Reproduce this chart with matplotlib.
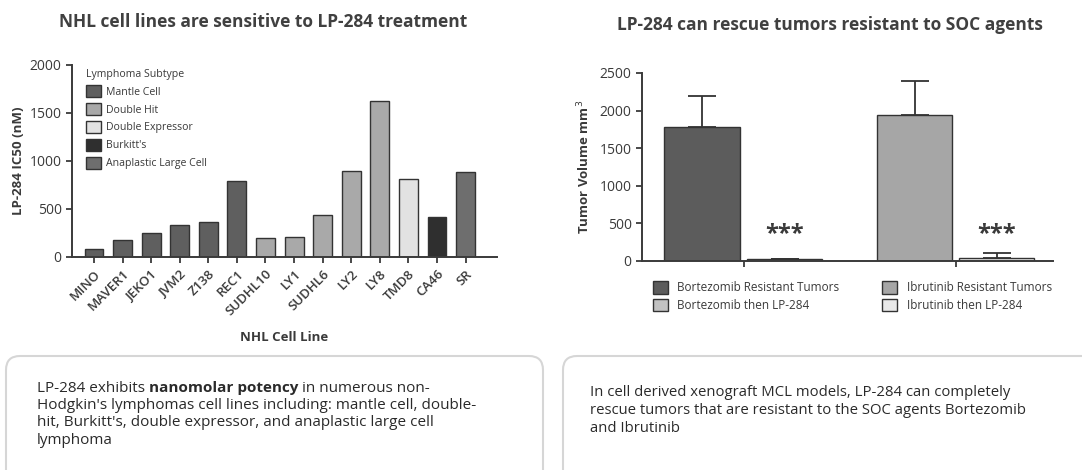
import matplotlib
matplotlib.use("Agg")
import matplotlib.pyplot as plt
from matplotlib.patches import Patch, FancyBboxPatch
from matplotlib.transforms import IdentityTransform

plt.rcParams["font.family"] = ["Open Sans", "DejaVu Sans"]

# left panel data
cell_lines = ["MINO", "MAVER1", "JEKO1", "JVM2", "Z138", "REC1", "SUDHL10", "LY1",
              "SUDHL6", "LY2", "LY8", "TMD8", "CA46", "SR"]
ic50 = [80, 180, 250, 330, 360, 790, 200, 210, 440, 900, 1620, 810, 420, 885]
subtype = ["Mantle Cell"] * 6 + ["Double Hit"] * 5 + ["Double Expressor", "Burkitt's",
                                                      "Anaplastic Large Cell"]
subtypes = ["Mantle Cell", "Double Hit", "Double Expressor", "Burkitt's", "Anaplastic Large Cell"]
subtype_colors = ["#5f5f5f", "#a9a9a9", "#e2e2e2", "#2f2f2f", "#6e6e6e"]

# right panel data
groups = ["Bortezomib Resistant Tumors", "Bortezomib then LP-284",
          "Ibrutinib Resistant Tumors", "Ibrutinib then LP-284"]
volume = [1780, 20, 1940, 40]
volume_err = [420, 10, 450, 60]
group_colors = ["#5c5c5c", "#c2c2c2", "#a6a6a6", "#e8e8e8"]
group_pos = [0, 1.09, 2.8, 3.88]

W, H = 1082, 470
fig = plt.figure(figsize=(W / 100, H / 100), dpi=100)
fig.patch.set_facecolor("white")

TXT = "#3a3a3a"


def style_axes(ax):
    for s in ("top", "right"):
        ax.spines[s].set_visible(False)
    for s in ("left", "bottom"):
        ax.spines[s].set_color("#3a3a3a")
        ax.spines[s].set_linewidth(1.4)
    ax.tick_params(colors="#3a3a3a", width=1.3, length=4, labelcolor=TXT)


# ---- left chart
axl = fig.add_axes([72 / W, 1 - 257 / H, (497 - 72) / W, (257 - 65) / H])
color_map = dict(zip(subtypes, subtype_colors))
xs = list(range(len(cell_lines)))
axl.bar(xs, ic50, width=0.66, color=[color_map[s] for s in subtype],
        edgecolor="#333333", linewidth=1.0, zorder=2)
axl.set_xlim(-0.77, 14.1)
axl.set_ylim(0, 2000)
axl.set_yticks([0, 500, 1000, 1500, 2000])
axl.set_xticks(xs)
axl.set_xticklabels(cell_lines, rotation=45, ha="right", rotation_mode="anchor",
                    fontsize=9.5, fontweight="semibold")
axl.tick_params(axis="y", labelsize=10)
style_axes(axl)
axl.set_ylabel("LP-284 IC50 (nM)", fontsize=9.5, fontweight="bold", color=TXT, labelpad=3)
axl.set_xlabel("NHL Cell Line", fontsize=9.5, fontweight="bold", color=TXT, labelpad=9)
handles = [Patch(facecolor=c, edgecolor="#333333", label=s) for s, c in zip(subtypes, subtype_colors)]
leg = axl.legend(handles=handles, title="Lymphoma Subtype", loc="upper left",
                 bbox_to_anchor=(0.01, 1.03), frameon=False, fontsize=7.6,
                 title_fontsize=7.6, handlelength=1.4, handleheight=1.4,
                 labelspacing=0.5, handletextpad=0.5, alignment="left")
for t in leg.get_texts():
    t.set_color(TXT)
leg.get_title().set_color(TXT)

fig.text(263 / W, 1 - 22 / H, "NHL cell lines are sensitive to LP-284 treatment",
         ha="center", va="center", fontsize=12.5, fontweight="bold", color="#404040")

# ---- right chart
axr = fig.add_axes([642 / W, 1 - 261 / H, (1053 - 642) / W, (261 - 73) / H])
axr.bar(group_pos, volume, width=0.99, color=group_colors, edgecolor="#333333",
        linewidth=1.0, zorder=2)
axr.errorbar(group_pos, volume, yerr=[[0] * 4, volume_err], fmt="none",
             ecolor="#333333", elinewidth=1.3, capsize=10, capthick=1.3, zorder=3)
for i in (1, 3):
    axr.text(group_pos[i], 360, "***", ha="center", va="center", fontsize=17,
             fontweight="bold", color=TXT)
axr.set_xlim(-0.79, 4.62)
axr.set_ylim(0, 2500)
axr.set_yticks([0, 500, 1000, 1500, 2000, 2500])
axr.set_xticks([0.55, 3.34])
axr.set_xticklabels(["", ""])
axr.tick_params(axis="y", labelsize=10)
style_axes(axr)
axr.set_ylabel("Tumor Volume mm$^3$", fontsize=9.5, fontweight="bold", color=TXT, labelpad=5)
handles_r = [Patch(facecolor=c, edgecolor="#333333", label=g) for g, c in zip(groups, group_colors)]
leg_r = axr.legend(handles=handles_r, ncol=2, loc="upper left",
                   bbox_to_anchor=(0.0, -0.05), frameon=False, fontsize=8.5,
                   handlelength=1.3, handleheight=1.3, labelspacing=0.35,
                   handletextpad=0.8, columnspacing=3.6)
for t in leg_r.get_texts():
    t.set_color(TXT)

fig.text(830 / W, 1 - 25 / H, "LP-284 can rescue tumors resistant to SOC agents",
         ha="center", va="center", fontsize=12.5, fontweight="bold", color="#404040")

# ---- text boxes below (pixel coords, origin at bottom)
for x0, x1 in ((6, 543), (563, 1110)):
    box = FancyBboxPatch((x0, -40), x1 - x0, (H - 356) + 40,
                         boxstyle="round,pad=0,rounding_size=14",
                         transform=IdentityTransform(), facecolor="white",
                         edgecolor="#d6d6d6", linewidth=1.5)
    fig.add_artist(box)


def rich_line(x, y, parts, size=11):
    # parts: list of (text, weight); placed left to right in pixels
    renderer = fig.canvas.get_renderer()
    for txt, wt in parts:
        t = fig.text(x / W, 1 - y / H, txt, ha="left", va="center", fontsize=size,
                     fontweight=wt, color="#2a2a2a")
        x += t.get_window_extent(renderer).width


left_lines = [
    [("LP-284 exhibits ", "normal"), ("nanomolar potency", "bold"), (" in numerous non-", "normal")],
    [("Hodgkin's lymphomas cell lines including: mantle cell, double-", "normal")],
    [("hit, Burkitt's, double expressor, and anaplastic large cell", "normal")],
    [("lymphoma", "normal")],
]
for i, parts in enumerate(left_lines):
    rich_line(37, 388 + i * 17.5, parts)

right_lines = [
    "In cell derived xenograft MCL models, LP-284 can completely",
    "rescue tumors that are resistant to the SOC agents Bortezomib",
    "and Ibrutinib",
]
for i, line in enumerate(right_lines):
    rich_line(590, 393 + i * 17.5, [(line, "normal")], size=10.7)

fig.savefig("out.png", dpi=100, facecolor="white")
